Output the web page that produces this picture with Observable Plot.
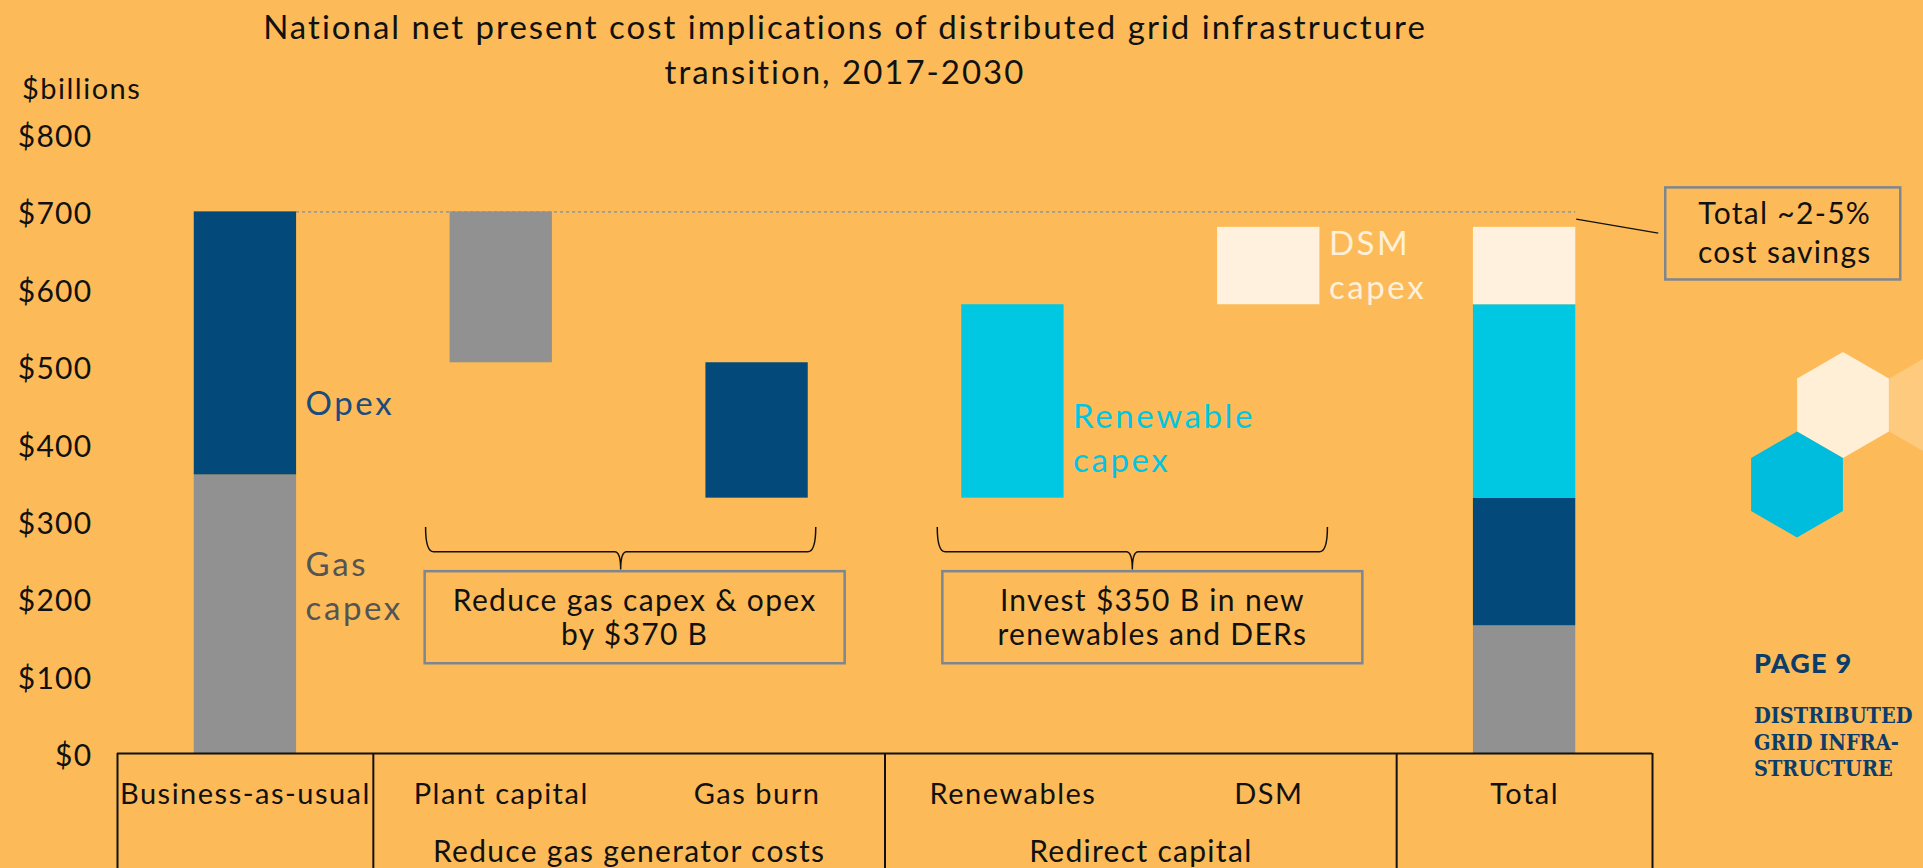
<!DOCTYPE html>
<html>
<head>
<meta charset="utf-8">
<script src="https://cdn.jsdelivr.net/npm/d3@7"></script>
<script src="https://cdn.jsdelivr.net/npm/@observablehq/plot@0.6"></script>
<style>
  html, body { margin: 0; padding: 0; background: #FCBB58; }
  #page { position: relative; width: 1923px; height: 868px; overflow: hidden; background: #FCBB58; font-family: Lato, "Noto Sans", sans-serif; color: #111; }
  #header { position: relative; height: 100px; }
  #title { position: absolute; left: 0; top: 4px; width: 1690px; text-align: center; font-size: 33px; line-height: 45px; letter-spacing: 2px; }
  #unit { position: absolute; left: 22px; top: 70px; font-size: 29px; line-height: 36px; letter-spacing: 1.5px; }
  #deco { position: absolute; left: 0; top: 0; width: 1923px; height: 868px; pointer-events: none; }
  #page9 { position: absolute; left: 1754px; top: 646px; font-size: 27px; font-weight: 900; color: #0B3D6B; letter-spacing: 1.2px; }
  #brand { position: absolute; left: 1754px; top: 703px; font-family: "DejaVu Serif Condensed", "DejaVu Serif", serif; font-weight: bold; font-size: 21.5px; line-height: 26.5px; color: #0B3D6B; }
  #chart svg { overflow: visible; }
</style>
</head>
<body>
<div id="page">
  <svg id="deco"></svg>
  <div id="header">
    <div id="title">National net present cost implications of distributed grid infrastructure<br>transition, 2017-2030</div>
    <div id="unit">$billions</div>
  </div>
  <div id="chart"></div>
  <div id="page9">PAGE 9</div>
  <div id="brand">DISTRIBUTED<br>GRID INFRA-<br>STRUCTURE</div>
</div>
<script>
// ---------- data ----------
const categories = ["Business-as-usual", "Plant capital", "Gas burn", "Renewables", "DSM", "Total"];
const components = ["Gas capex", "Opex", "Renewable capex", "DSM capex"];
const componentColors = ["#919191", "#03497A", "#00C8E2", "#FFF1DE"];
const bauValues = [360, 340];                 // Gas capex, Opex
const changeCategories = ["Plant capital", "Gas burn", "Renewables", "DSM"];
const changeComponents = ["Gas capex", "Opex", "Renewable capex", "DSM capex"];
const changeValues = [-195, -175, 250, 100];
const yTicks = [0, 100, 200, 300, 400, 500, 600, 700, 800];
const groupLabels = ["Reduce gas generator costs", "Redirect capital"];
const groupFirst = ["Plant capital", "Renewables"];
const groupLast = ["Gas burn", "DSM"];
const groupNotes = ["Reduce gas capex & opex\nby $370 B", "Invest $350 B in new\nrenewables and DERs"];
const totalNote = "Total ~2-5%\ncost savings";
const componentLabels = ["Gas\ncapex", "Opex", "Renewable\ncapex", "DSM\ncapex"];
const componentLabelCats = ["Business-as-usual", "Business-as-usual", "Renewables", "DSM"];
const componentLabelValues = [219, 455, 410, 634];
const componentLabelColors = ["#545454", "#1B4B7D", "#00C5E3", "#FFF0DA"];

// ---------- build waterfall segments ----------
const segments = [];
let level = 0;
bauValues.forEach((v, i) => {
  segments.push({cat: categories[0], comp: components[i], y1: level, y2: level + v});
  level += v;
});
const bauTotal = level;
changeValues.forEach((v, i) => {
  const start = level; level += v;
  segments.push({cat: changeCategories[i], comp: changeComponents[i], y1: Math.min(start, level), y2: Math.max(start, level)});
});
let stack = 0;
components.forEach((c, i) => {
  const v = (bauValues[i] || 0) + d3.sum(changeValues.filter((_, j) => changeComponents[j] === c));
  segments.push({cat: "Total", comp: c, y1: stack, y2: stack + v});
  stack += v;
});
const labelData = componentLabels.map((t, i) => ({text: t, cat: componentLabelCats[i], v: componentLabelValues[i], color: componentLabelColors[i]}));
const groupData = groupLabels.map((t, i) => ({label: t, first: groupFirst[i], last: groupLast[i], note: groupNotes[i]}));

// ---------- layout ----------
const W = 1923, H = 768, ML = 117, MR = 271, MT = 34, MB = 115;
const step = (W - ML - MR) / categories.length;
const bw = step * 0.4;
const FONT = "Lato, 'Noto Sans', sans-serif";

const plot = Plot.plot({
  width: W, height: H,
  marginLeft: ML, marginRight: MR, marginTop: MT, marginBottom: MB,
  style: {background: "transparent", fontFamily: FONT, color: "#111", overflow: "visible"},
  x: {domain: categories, paddingInner: 0.6, paddingOuter: 0.3, round: false},
  y: {domain: [0, 800]},
  color: {domain: components, range: componentColors},
  marks: [
    Plot.axisY({ticks: yTicks, tickFormat: d => "$" + d, tickSize: 0, tickPadding: 25, fontSize: 30, label: null, dy: 3}),
    Plot.axisX({tickSize: 0, tickPadding: 30, fontSize: 29, label: null}),
    Plot.ruleY([bauTotal], {x1: () => categories[0], x2: () => categories[categories.length - 1], insetLeft: bw, stroke: "#9A9A9A", strokeWidth: 1.6, strokeDasharray: "3,3"}),
    Plot.barY(segments, {x: "cat", y1: "y1", y2: "y2", fill: "comp"}),
    Plot.text(labelData, {x: "cat", y: "v", text: "text", fill: "color", dx: bw / 2 + 9, textAnchor: "start", lineAnchor: "middle", fontSize: 33, lineHeight: 1.33}),
    Plot.ruleY([0], {stroke: "#111", strokeWidth: 2}),
    Plot.ruleX([categories[0], "Plant capital", "Renewables", "Total"], {dx: -step / 2, insetTop: H - MT - MB, insetBottom: -MB, stroke: "#111", strokeWidth: 2}),
    Plot.ruleX(["Total"], {dx: step / 2, insetTop: H - MT - MB, insetBottom: -MB, stroke: "#111", strokeWidth: 2}),
    Plot.text(groupData, {x: "first", y: () => 0, text: "label", dx: step / 2, dy: 99, lineAnchor: "middle", fontSize: 30})
  ]
});
document.getElementById("chart").appendChild(plot);

const svg = d3.select(plot);
svg.selectAll('g[aria-label="y-axis tick label"] text').style("letter-spacing", "1.3px");
svg.selectAll('g[aria-label="x-axis tick label"] text').style("letter-spacing", "1.5px");
const textGroups = svg.selectAll('g[aria-label="text"]').nodes();
if (textGroups[0]) d3.select(textGroups[0]).selectAll("text").style("letter-spacing", "2.6px");
if (textGroups[1]) d3.select(textGroups[1]).selectAll("text").style("letter-spacing", "1.3px");

// ---------- annotations through the plot's scales ----------
const xs = plot.scale("x"), ys = plot.scale("y");
const X = v => xs.apply(v), Y = v => ys.apply(v);
const g = svg.append("g").attr("font-family", FONT).style("letter-spacing", "1.3px");
const noteOffsets = [6, 12];

groupData.forEach((d, i) => {
  const x0 = X(d.first) - 24, x1 = X(d.last) + bw + 8;
  const cx = (x0 + x1) / 2;
  const yT = Y(292), yH = Y(260), yB = Y(237);
  g.append("path")
    .attr("d", `M${x0},${yT} Q${x0},${yH} ${x0 + 8},${yH} L${cx - 6},${yH} Q${cx},${yH} ${cx},${yB} Q${cx},${yH} ${cx + 6},${yH} L${x1 - 8},${yH} Q${x1},${yH} ${x1},${yT}`)
    .attr("fill", "none").attr("stroke", "#111").attr("stroke-width", 1.5);
  const bx = (X(d.first) + X(d.last) + bw) / 2 + noteOffsets[i], bTop = Y(235), bBot = Y(116);
  g.append("rect").attr("x", bx - 210).attr("y", bTop).attr("width", 420).attr("height", bBot - bTop)
    .attr("fill", "none").attr("stroke", "#7E8690").attr("stroke-width", 2.5);
  const lines = d.note.split("\n");
  lines.forEach((t, k) => {
    g.append("text").attr("x", bx).attr("y", (bTop + bBot) / 2 + (k - (lines.length - 1) / 2) * 34)
      .attr("dy", "0.35em").attr("text-anchor", "middle").attr("font-size", 30).attr("fill", "#111").text(t);
  });
});

// total savings callout
{
  const xr = X("Total") + bw;
  const bx0 = xr + 90, bx1 = xr + 325, by0 = Y(731), by1 = Y(612);
  g.append("line").attr("x1", xr + 1).attr("y1", Y(690)).attr("x2", bx0 - 7).attr("y2", Y(672))
    .attr("stroke", "#111").attr("stroke-width", 1.3);
  g.append("rect").attr("x", bx0).attr("y", by0).attr("width", bx1 - bx0).attr("height", by1 - by0)
    .attr("fill", "none").attr("stroke", "#7E8690").attr("stroke-width", 2.5);
  totalNote.split("\n").forEach((t, k) => {
    g.append("text").attr("x", (bx0 + bx1) / 2 + 2).attr("y", (by0 + by1) / 2 + (k - 0.5) * 39)
      .attr("dy", "0.35em").attr("text-anchor", "middle").attr("font-size", 30).attr("fill", "#111").text(t);
  });
}

// ---------- decorative hexagons ----------
const hex = (cx, cy, r) => d3.range(6).map(k => {
  const a = (-90 + 60 * k) * Math.PI / 180;
  return [cx + r * Math.cos(a), cy + r * Math.sin(a)].join(",");
}).join(" ");
const deco = d3.select("#deco");
deco.append("polygon").attr("points", hex(1935, 405, 53)).attr("fill", "#FDCA7E");
deco.append("polygon").attr("points", hex(1843, 405, 53)).attr("fill", "#FFEFD6");
deco.append("polygon").attr("points", hex(1797, 484.5, 53)).attr("fill", "#00BCDD");
</script>
</body>
</html>
